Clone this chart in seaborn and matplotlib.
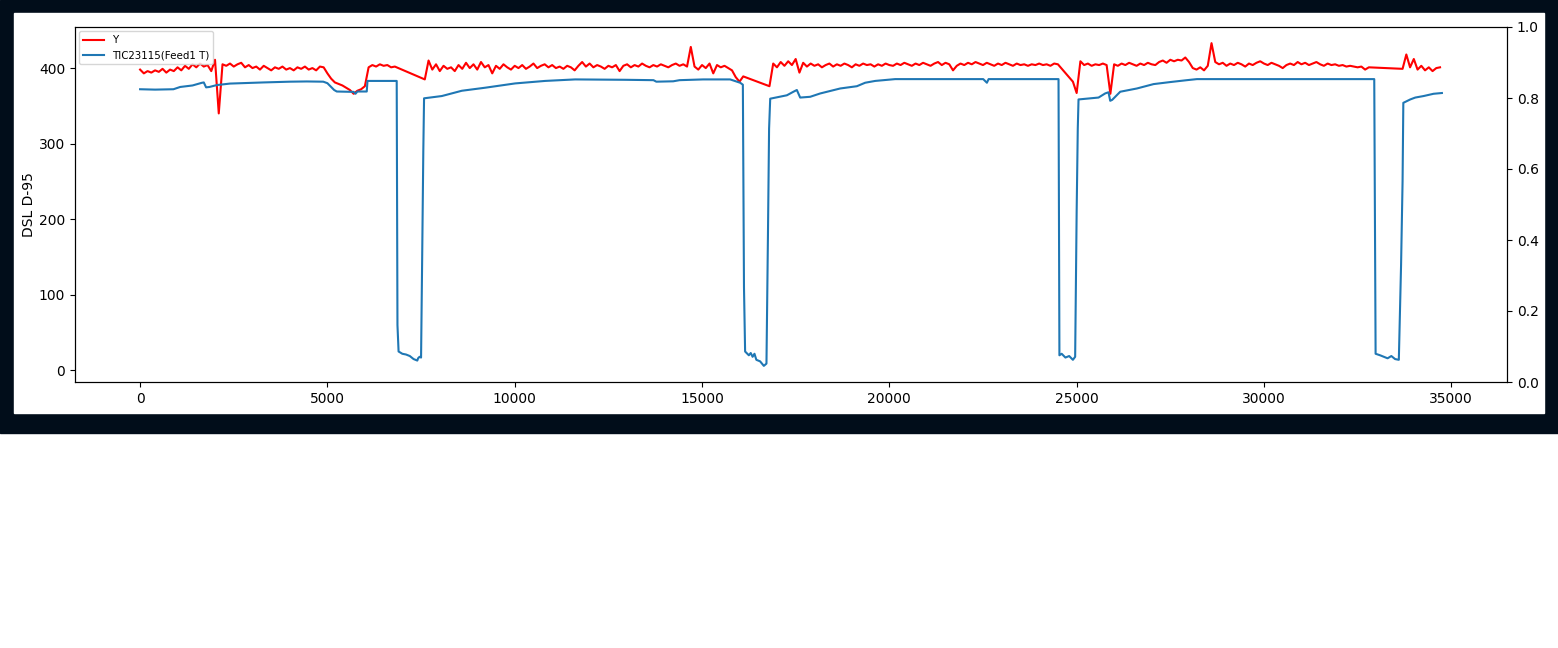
"""
plot.py
Recreates the DSL D-95 trend chart: target Y (red) against feed
temperature TIC23115 (blue), with an empty twin axis on the right.
"""

import numpy as np
import pandas as pd
import matplotlib
matplotlib.use("Agg")
import matplotlib.pyplot as plt
import seaborn as sns

# ----------------------------------------------------------------------
# Data
# ----------------------------------------------------------------------
# Y is sampled every 100 steps from 0 to 34700; None = no sample
# (the line simply joins across those gaps).
SAMPLE_STEP = 100
Y_VALUES = [
    398, 393, 396, 394, 397, 395, 399, 394, 398, 396,
    401, 397, 403, 399, 405, 401, 406, 402, 404, 396,
    411, 340, 405, 403, 406, 402, 405, 407, 401, 404,
    400, 402, 398, 403, 400, 397, 401, 399, 402, 398,
    400, 397, 401, 399, 402, 398, 400, 397, 402, 401,
    393, 386, 381, 379, 377, 374, 371, 366, 370, 372,
    376, 401, 404, 402, 405, 403, 404, 401, 402, None,
    None, None, None, None, None, None, 385, 410, 398, 405,
    396, 403, 399, 401, 396, 404, 399, 407, 400, 405,
    398, 408, 401, 404, 393, 403, 399, 405, 401, 398,
    403, 400, 404, 399, 402, 406, 400, 403, 405, 401,
    404, 400, 402, 399, 403, 401, 397, 403, 408, 402,
    406, 401, 404, 402, 399, 403, 401, 404, 396, 403,
    405, 401, 404, 402, 406, 403, 401, 404, 402, 405,
    403, 401, 404, 406, 403, 405, 402, 428, 402, 398,
    404, 400, 406, 393, 404, 401, 403, 400, 397, 388,
    382, 389, None, None, None, None, None, None, 376, 406,
    401, 408, 403, 409, 404, 412, 394, 407, 402, 406,
    403, 405, 401, 404, 406, 402, 405, 403, 406, 404,
    401, 405, 403, 406, 404, 405, 402, 405, 403, 406,
    404, 403, 406, 404, 407, 405, 403, 406, 404, 407,
    405, 403, 406, 408, 404, 407, 405, 397, 403, 406,
    404, 407, 405, 408, 406, 404, 407, 405, 403, 406,
    404, 407, 405, 403, 406, 404, 405, 403, 405, 404,
    406, 404, 405, 403, 406, 405, None, None, None, 382,
    367, 409, 404, 406, 403, 405, 404, 406, 404, 366,
    405, 403, 406, 404, 407, 405, 403, 406, 404, 407,
    405, 404, 408, 410, 407, 411, 409, 411, 410, 414,
    408, 400, 398, 401, 397, 403, 433, 408, 405, 407,
    403, 406, 404, 407, 405, 402, 406, 404, 407, 409,
    406, 404, 407, 405, 403, 400, 404, 406, 404, 408,
    405, 407, 404, 406, 408, 405, 403, 406, 404, 405,
    403, 404, 402, 403, 402, 401, 402, 398, 401, None,
    None, None, None, None, None, None, None, 399, 418, 401,
    412, 398, 403, 397, 401, 396, 400, 401,
]

# Feed temperature, key points along the trend.
TIC_X = [
    0, 400, 890, 1070, 1400, 1647, 1700, 1762, 1850, 2047,
    2400, 3290, 4000, 4450, 4890, 5000, 5180, 5250, 5700, 5750,
    5800, 6050, 6070, 6850, 6870, 6900, 7000, 7100, 7200, 7300,
    7400, 7420, 7460, 7500, 7530, 7560, 7580, 8054, 8588, 9210,
    10011, 10812, 11613, 12948, 13704, 13780, 14230, 14400, 15030, 15750,
    16018, 16090, 16120, 16150, 16250, 16300, 16350, 16400, 16450, 16550,
    16650, 16720, 16760, 16790, 16820, 17265, 17440, 17531, 17620, 17887,
    18154, 18688, 19133, 19355, 19622, 20156, 22506, 22604, 22650, 24516,
    24540, 24600, 24700, 24800, 24900, 24960, 25000, 25030, 25050, 25584,
    25763, 25850, 25896, 25950, 26163, 26608, 27053, 27498, 27942, 28210,
    32944, 32980, 33100, 33200, 33300, 33400, 33500, 33600, 33660, 33700,
    33720, 33905, 34039, 34261, 34528, 34750,
]
TIC_Y = [
    372, 371.5, 372, 375, 377, 380.5, 381, 374.5, 375, 377.5,
    379.5, 381, 382, 382.3, 382, 380, 371, 369, 368.5, 366,
    369, 369, 383, 383, 60, 25, 22, 21, 19, 15,
    13, 16, 18, 17, 150, 290, 360, 363, 370, 374,
    379.7, 383, 385, 384.5, 384, 382, 382.5, 384, 385, 385,
    380.6, 378, 110, 25, 20, 23, 18, 22, 14, 12,
    6, 9, 180, 320, 359.5, 364, 368.7, 371, 361, 362,
    366.4, 373, 376, 380.6, 383, 385.4, 385.4, 380.6, 385.4, 385.4,
    20, 22, 17, 19, 14, 18, 210, 320, 358.5, 361,
    366.5, 368, 356.7, 358, 368.7, 373, 378.8, 381.5, 384, 385.4,
    385.4, 22, 20, 18, 16, 19, 15, 14, 140, 250,
    354, 358.5, 361, 363, 366, 367,
]

Y_LABEL = "Y"
TIC_LABEL = "TIC23115(Feed1 T)"
FRAME_COLOR = "#010d1a"


def build_frames():
    """Put the two series into tidy tables, dropping the Y gaps."""
    t = np.arange(len(Y_VALUES)) * SAMPLE_STEP
    y_df = pd.DataFrame({"t": t, "value": pd.to_numeric(pd.Series(Y_VALUES), errors="coerce")})
    y_df = y_df.dropna()
    tic_df = pd.DataFrame({"t": TIC_X, "value": TIC_Y})
    return y_df, tic_df


def main():
    y_df, tic_df = build_frames()

    fig = plt.figure(figsize=(15.58, 6.48), dpi=100)
    fig.patch.set_facecolor("white")

    # dark notebook frame around the white figure area
    fig.add_artist(plt.Rectangle((0, 215 / 648), 1, 433 / 648,
                                 transform=fig.transFigure,
                                 color=FRAME_COLOR, zorder=-10))
    fig.add_artist(plt.Rectangle((14 / 1558, 235 / 648), 1530 / 1558, 400 / 648,
                                 transform=fig.transFigure,
                                 color="white", zorder=-9))

    ax = fig.add_axes([75 / 1558, 266 / 648, 1432 / 1558, 355 / 648])

    sns.lineplot(data=y_df, x="t", y="value", color="red", label=Y_LABEL,
                 estimator=None, sort=False, linewidth=1.5, ax=ax)
    sns.lineplot(data=tic_df, x="t", y="value", color="#1f77b4", label=TIC_LABEL,
                 estimator=None, sort=False, linewidth=1.5, ax=ax)

    ax.set_xlabel("")
    ax.set_ylabel("DSL D-95", labelpad=2)
    ax.set_yticks([0, 100, 200, 300, 400])
    ax.set_xticks([0, 5000, 10000, 15000, 20000, 25000, 30000, 35000])
    ax.legend(loc="upper left", fontsize=7.4, borderaxespad=0.4)

    # right-hand axis is left empty, as in the original chart
    ax2 = ax.twinx()
    ax2.set_ylim(0, 1)

    fig.savefig("out.png", dpi=100)
    plt.close(fig)


if __name__ == "__main__":
    main()
